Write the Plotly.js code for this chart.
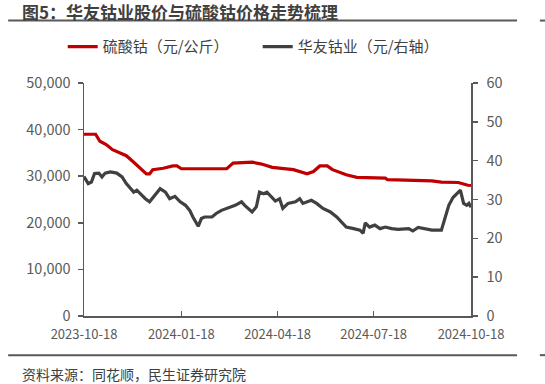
<!DOCTYPE html>
<html>
<head>
<meta charset="utf-8">
<script src="https://cdn.plot.ly/plotly-3.0.1.min.js"></script>
<style>
html,body{margin:0;padding:0;background:#fff;}
#chart{width:545px;height:384px;}
</style>
</head>
<body>
<div id="chart"></div>
<script>
// 硫酸钴 (元/公斤) — left axis
const cobaltDates = ['2023-10-18','2023-10-29','2023-11-02','2023-11-08','2023-11-14','2023-11-21','2023-11-27','2023-12-03','2023-12-10','2023-12-16','2023-12-19','2023-12-22','2024-01-01','2024-01-10','2024-01-14','2024-01-18','2024-03-01','2024-03-07','2024-03-25','2024-04-03','2024-04-13','2024-05-03','2024-05-16','2024-05-22','2024-05-28','2024-06-04','2024-06-09','2024-06-22','2024-07-02','2024-07-29','2024-07-31','2024-09-11','2024-09-20','2024-10-06','2024-10-15','2024-10-18'];
const cobaltValues = [39000,39000,37500,36800,35700,35000,34400,33200,31800,30500,30500,31400,31700,32200,32200,31600,31600,32800,33000,32600,31900,31400,30500,31000,32200,32200,31400,30300,29750,29600,29250,29000,28750,28650,28050,28000];

// 华友钴业 (元, 右轴) — right axis
const stockDates = ['2023-10-18','2023-10-22','2023-10-25','2023-10-28','2023-11-01','2023-11-04','2023-11-07','2023-11-12','2023-11-18','2023-11-23','2023-11-27','2023-12-04','2023-12-07','2023-12-10','2023-12-15','2023-12-19','2023-12-24','2023-12-29','2024-01-03','2024-01-07','2024-01-12','2024-01-17','2024-01-22','2024-01-26','2024-01-29','2024-02-03','2024-02-06','2024-02-09','2024-02-16','2024-02-20','2024-02-25','2024-03-02','2024-03-09','2024-03-15','2024-03-18','2024-03-25','2024-03-29','2024-04-01','2024-04-05','2024-04-08','2024-04-11','2024-04-16','2024-04-20','2024-04-23','2024-04-28','2024-05-05','2024-05-09','2024-05-12','2024-05-20','2024-05-25','2024-05-31','2024-06-07','2024-06-13','2024-06-18','2024-06-22','2024-06-29','2024-07-05','2024-07-08','2024-07-10','2024-07-14','2024-07-19','2024-07-24','2024-07-29','2024-08-04','2024-08-10','2024-08-20','2024-08-24','2024-08-29','2024-09-04','2024-09-11','2024-09-20','2024-09-23','2024-09-27','2024-10-01','2024-10-08','2024-10-11','2024-10-14','2024-10-16','2024-10-18'];
const stockValues = [35.9,34.1,34.5,36.7,36.8,35.8,36.8,37.1,36.8,35.8,34.1,31.9,32.4,31.5,30.2,29.4,31.1,32.8,31.9,30.2,30.8,29.4,28.5,27.2,25.5,23.1,25.1,25.5,25.5,26.4,27.2,27.7,28.5,29.4,28.5,26.8,28.1,31.9,31.5,31.9,31.0,29.6,30.2,27.7,29.0,29.4,30.2,29.0,29.8,29.0,27.7,26.8,25.5,24.2,22.9,22.5,22.1,21.3,24.0,22.9,23.4,22.5,22.9,22.5,22.3,22.5,21.9,22.8,22.5,22.1,22.1,24.7,28.5,30.5,32.4,29.0,28.5,29.0,28.0];

const xTickVals = ['2023-10-18','2024-01-18','2024-04-18','2024-07-18','2024-10-18'];
const xTickText = ['2023-10-18','2024-01-18','2024-04-18','2024-07-18','2024-10-18'];
const leftTicks = [0,10000,20000,30000,40000,50000];
const rightTicks = [0,10,20,30,40,50,60];

const seriesNames = ['硫酸钴（元/公斤）','华友钴业（元/右轴）'];
const titleText = '图5：华友钴业股价与硫酸钴价格走势梳理';
const sourceText = '资料来源：同花顺，民生证券研究院';

const FONT = '"Noto Sans CJK SC", "Noto Sans", sans-serif';
const axisColor = '#595959';

const traces = [
  {x: cobaltDates, y: cobaltValues, name: seriesNames[0], type: 'scatter', mode: 'lines',
   line: {color: '#C00000', width: 3.2, shape: 'linear'}, yaxis: 'y'},
  {x: stockDates, y: stockValues, name: seriesNames[1], type: 'scatter', mode: 'lines',
   line: {color: '#404040', width: 3.2, shape: 'linear'}, yaxis: 'y2'}
];

const layout = {
  width: 545, height: 384,
  margin: {l: 84, r: 74, t: 83, b: 68},
  paper_bgcolor: '#fff', plot_bgcolor: '#fff',
  font: {family: FONT, size: 13, color: '#595959'},
  showlegend: true,
  legend: {orientation: 'h', x: -0.055, xanchor: 'left', y: 1.155, yanchor: 'middle',
           font: {size: 15, color: '#404040', family: FONT}, itemwidth: 30,
           entrywidth: 150, entrywidthmode: 'pixels', tracegroupgap: 0,
           bgcolor: 'rgba(0,0,0,0)'},
  xaxis: {
    type: 'date', range: ['2023-10-18','2024-10-18'],
    tickmode: 'array', tickvals: xTickVals, ticktext: xTickText,
    ticks: 'inside', ticklen: 5, tickcolor: axisColor, tickwidth: 1.5,
    ticklabelstandoff: 6,
    showline: true, linecolor: axisColor, linewidth: 1.5,
    showgrid: false, zeroline: false,
    tickfont: {size: 13, color: '#595959', family: FONT}
  },
  yaxis: {
    range: [0, 50000], tickmode: 'array', tickvals: leftTicks,
    tickformat: ',d', ticks: 'outside', ticklen: 5, tickcolor: axisColor, tickwidth: 1.5,
    ticklabelstandoff: 4,
    showline: true, linecolor: axisColor, linewidth: 1.5,
    showgrid: false, zeroline: false,
    tickfont: {size: 14.5, color: '#595959', family: FONT}
  },
  yaxis2: {
    range: [0, 60], tickmode: 'array', tickvals: rightTicks,
    overlaying: 'y', side: 'right',
    ticks: 'outside', ticklen: 5, tickcolor: axisColor, tickwidth: 1.5,
    ticklabelstandoff: 6,
    showline: true, linecolor: axisColor, linewidth: 1.5,
    showgrid: false, zeroline: false,
    tickfont: {size: 14.5, color: '#595959', family: FONT}
  },
  shapes: [
    {type: 'line', xref: 'paper', yref: 'paper', x0: -0.196, x1: 1.119, y0: 1.268, y1: 1.268,
     line: {color: '#595959', width: 2}},
    {type: 'line', xref: 'paper', yref: 'paper', x0: 1.178, x1: 1.2, y0: 1.268, y1: 1.268,
     line: {color: '#595959', width: 2}},
    {type: 'line', xref: 'paper', yref: 'paper', x0: -0.196, x1: 1.119, y0: -0.168, y1: -0.168,
     line: {color: '#595959', width: 2}},
    {type: 'line', xref: 'paper', yref: 'paper', x0: 1.178, x1: 1.2, y0: -0.168, y1: -0.168,
     line: {color: '#595959', width: 2}}
  ],
  annotations: [
    {text: '<b>' + titleText + '</b>', xref: 'paper', yref: 'paper', x: -0.165, y: 1.308,
     xanchor: 'left', yanchor: 'middle', showarrow: false,
     font: {size: 17, color: '#404040', family: FONT}},
    {text: sourceText, xref: 'paper', yref: 'paper', x: -0.165, y: -0.248,
     xanchor: 'left', yanchor: 'middle', showarrow: false,
     font: {size: 14, color: '#404040', family: FONT}}
  ]
};

Plotly.newPlot('chart', traces, layout, {displayModeBar: false, staticPlot: true});
</script>
</body>
</html>
